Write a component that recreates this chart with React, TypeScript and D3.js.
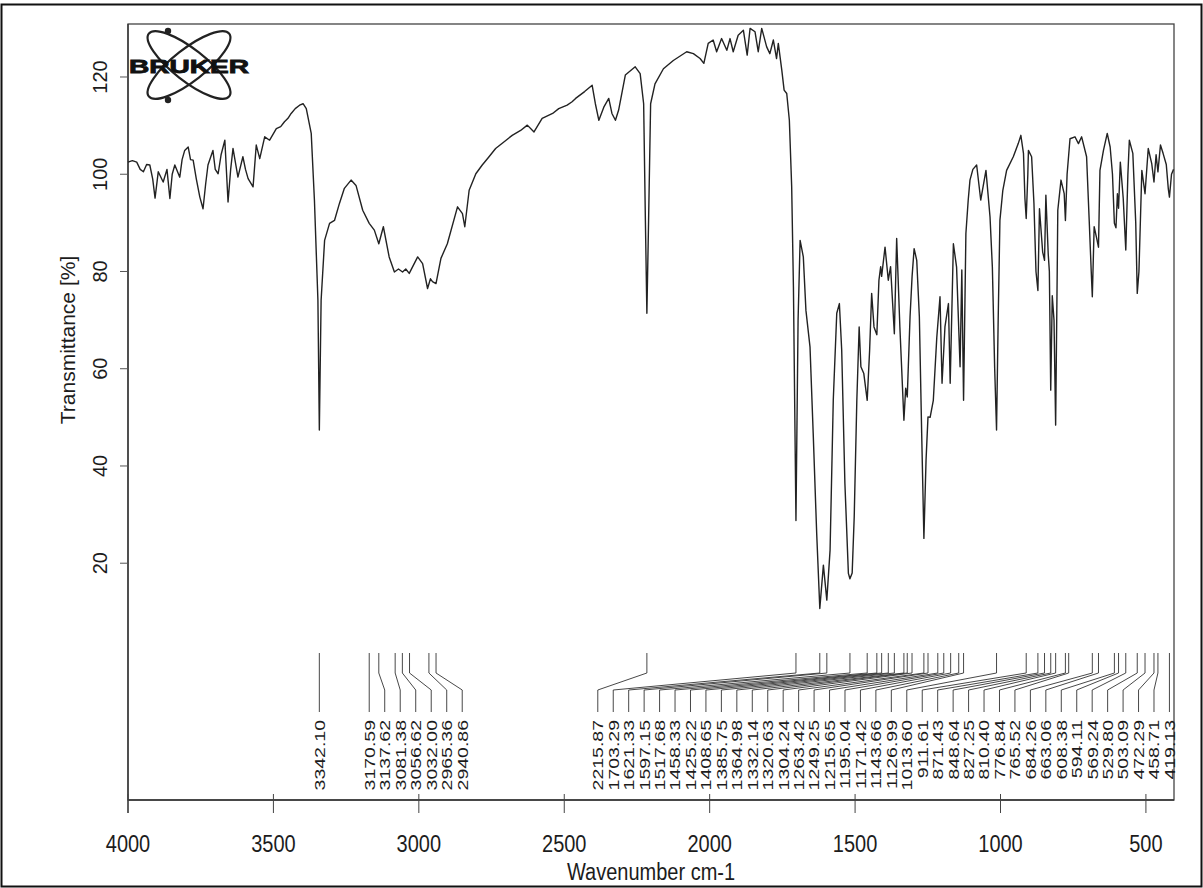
import * as d3 from 'd3';

const W = 1203;
const H = 888;

// axis ticks
const xTicks = [4000, 3500, 3000, 2500, 2000, 1500, 1000, 500];
const yTicks = [20, 40, 60, 80, 100, 120];

// spectrum (wavenumber cm-1 / transmittance %)
const wavenumbers = [
  4000, 3985, 3970, 3958, 3947, 3936, 3925, 3915, 3907, 3896, 3879, 3866, 3856, 3848, 3839, 3822,
  3814, 3805, 3793, 3785, 3776, 3765, 3753, 3742, 3733, 3725, 3708, 3700, 3690, 3680, 3667, 3656,
  3647, 3639, 3622, 3605, 3596, 3587, 3570, 3559, 3547, 3530, 3513, 3490, 3475, 3462, 3450, 3439,
  3425, 3410, 3398, 3387, 3370, 3359, 3347, 3342.1, 3336, 3324, 3307, 3290, 3273, 3256, 3233, 3216,
  3193, 3170.6, 3153, 3137.6, 3122, 3102, 3084, 3070, 3056, 3045, 3033, 3004, 2987, 2970, 2960, 2953,
  2941, 2924, 2902, 2867, 2850, 2842, 2827, 2804, 2782, 2760, 2736, 2700, 2679, 2650, 2627, 2604,
  2576, 2540, 2519, 2490, 2473, 2461, 2430, 2404, 2393, 2381, 2364, 2347, 2336, 2324, 2313, 2290,
  2256, 2239, 2227, 2221, 2215.9, 2210, 2203, 2188, 2159, 2125, 2079, 2056, 2033, 2020, 2005, 1988,
  1976, 1959, 1941, 1930, 1919, 1902, 1884, 1871, 1861, 1844, 1833, 1821, 1804, 1793, 1781, 1770,
  1764, 1752, 1744, 1735, 1726, 1718, 1712, 1703.3, 1696, 1689, 1678, 1669, 1655, 1644, 1632, 1621.3,
  1609, 1597.2, 1586, 1575, 1563, 1554, 1546, 1535, 1523, 1517.7, 1510, 1503, 1494, 1486, 1480, 1470,
  1458.3, 1450, 1443, 1435, 1425.2, 1418, 1412, 1408.7, 1397, 1385.8, 1378, 1365, 1357, 1346, 1332.1, 1326,
  1320.6, 1311, 1304, 1297, 1288, 1279, 1271, 1263.4, 1256, 1249.3, 1242, 1231, 1219, 1208, 1201, 1191,
  1179, 1173, 1162, 1151, 1139, 1133, 1127, 1119, 1111, 1105, 1095, 1082, 1068, 1050, 1036, 1028,
  1020, 1013.6, 1008, 1002, 992, 979, 956, 939, 930, 921, 916, 911.6, 906, 904, 893, 885,
  878, 871.4, 866, 855, 848.6, 844, 836, 832, 827.3, 822, 816, 810.4, 805, 803, 792, 781,
  776.8, 771, 765.5, 761, 744, 732, 721, 704, 695, 688, 684.3, 678, 670, 663.1, 658, 646,
  633, 623, 615, 608.4, 603, 598, 594.1, 588, 578, 569.2, 562, 557, 545, 535, 529.8, 524,
  514, 503.1, 492, 480, 472.3, 465, 458.7, 450, 441, 430, 423, 419.1, 412, 405,
];
const transmittance = [
  102.5, 102.8, 102.5, 101, 100.5, 102, 101.9, 99, 95.1, 100.5, 98.4, 101, 95, 100, 101.9, 99.4,
  103, 104.9, 105.6, 103, 102.9, 99, 95.3, 92.9, 98, 101.9, 104.9, 101, 100.1, 104, 107, 94.3,
  101, 105.3, 99.4, 103.6, 101, 99.1, 97.4, 106, 103.2, 107.7, 107, 109.4, 109.8, 110.8, 111.5, 112.5,
  113.5, 114.2, 114.5, 113.5, 108.4, 94.7, 74.1, 47.4, 74.1, 86.4, 89.9, 90.5, 94, 97.1, 98.8, 97.7,
  92.6, 89.9, 88.5, 85.7, 89.2, 83, 79.9, 80.5, 79.9, 80.5, 79.6, 83, 81.6, 76.5, 78.5, 77.9,
  77.5, 82.7, 85.7, 93.3, 91.9, 89.2, 96.7, 100.1, 101.9, 103.5, 105.3, 107, 108, 109, 110.1, 108.7,
  111.5, 112.5, 113.5, 114.2, 114.9, 115.6, 117, 118.3, 114.5, 111.1, 113.8, 115.6, 112.5, 111.1, 113.2, 120.4,
  122.1, 120.7, 114.5, 90.5, 71.4, 90.5, 114.5, 118.6, 121.7, 123.4, 125.2, 124.8, 123.8, 122.8, 126.9, 127.6,
  125.2, 127.9, 125.5, 127.9, 125.2, 128.6, 129.6, 124.5, 130, 129.3, 125.2, 130, 126.2, 124.8, 127.6, 123.8,
  126.9, 121.4, 117.3, 116.6, 111.1, 97.4, 76.8, 28.8, 70, 86.4, 83, 72, 64.5, 46.7, 26.1, 10.7,
  19.6, 12.4, 22.7, 53.5, 71.4, 73.4, 63.8, 36.4, 17.9, 16.8, 18, 29.5, 53.5, 68.6, 60.4, 59,
  53.5, 63.8, 75.5, 68.6, 67, 78.2, 81, 79, 85, 78.2, 81, 67.2, 86.8, 68.6, 49.4, 56,
  54.2, 70.7, 79, 84.7, 82.3, 70.7, 46.7, 25.1, 41.2, 50.1, 50, 53.5, 66.5, 74.8, 57, 68.6,
  73.4, 57, 85.7, 80.9, 60.4, 80.3, 53.5, 87.8, 94.7, 98.8, 101, 101.9, 94.7, 100.8, 91.2, 80.9,
  60, 47.4, 70, 90.5, 96.7, 100.8, 103.6, 106.3, 108, 104.3, 95, 90.9, 100, 104.9, 103.6, 94,
  80, 76.1, 92.9, 84, 82.3, 95.7, 83.7, 80, 55.6, 75, 70, 48.4, 80, 92.6, 98.8, 96,
  90.5, 100, 104, 107.3, 107.7, 106.3, 107.7, 103.6, 90.5, 80, 74.8, 89.2, 87, 85, 100.8, 104.9,
  108.4, 105.6, 100, 89.9, 89, 96, 93, 102.5, 95, 84.4, 100, 107, 104.3, 90, 75.5, 80,
  100.8, 96, 105.3, 102.2, 98.4, 104, 100.5, 106, 104.3, 102, 97, 95.3, 100, 101,
];

// peak picking labels
const peaksOH = [3342.10];
const peaksCH = [3170.59, 3137.62, 3081.38, 3056.62, 3032.00, 2965.36, 2940.86];
const peaksLow = [
  2215.87, 1703.29, 1621.33, 1597.15, 1517.68, 1458.33, 1425.22, 1408.65, 1385.75, 1364.98,
  1332.14, 1320.63, 1304.24, 1263.42, 1249.25, 1215.65, 1195.04, 1171.42, 1143.66, 1126.99,
  1013.60, 911.61, 871.43, 848.64, 827.25, 810.40, 776.84, 765.52, 684.26, 663.06,
  608.38, 594.11, 569.24, 529.80, 503.09, 472.29, 458.71, 419.13,
];

const FONT = '"Liberation Sans", Arial, Helvetica, sans-serif';
const INK = '#1c1c1c';

export default function App() {
  const left = 128, right = 1175, top = 24, bottom = 800;
  const x = d3.scaleLinear().domain([4000, 400]).range([left, right]);
  const y = d3.scaleLinear().domain([-28.7, 130.9]).range([bottom, top]);

  const line = d3.line<number>()
    .x((_, i) => x(wavenumbers[i]))
    .y(d => y(d));
  const spectrum = line(transmittance) || '';

  // label positions for the peak table
  const labels: { wn: number; tx: number; lx: number }[] = [];
  peaksOH.forEach(w => labels.push({ wn: w, tx: x(w), lx: x(w) }));
  const chStart = x(peaksCH[0]);
  peaksCH.forEach((w, i) => labels.push({ wn: w, tx: x(w), lx: chStart + i * 15.5 }));
  const lowEnd = x(peaksLow[peaksLow.length - 1]);
  peaksLow.forEach((w, i) =>
    labels.push({ wn: w, tx: x(w), lx: lowEnd - (peaksLow.length - 1 - i) * 15.45 }));

  const leader = (tx: number, lx: number) =>
    Math.abs(tx - lx) < 0.5
      ? `M${tx},653V712`
      : `M${tx},653V673L${lx},690V712`;

  return (
    <svg width={W} height={H} style={{ position: 'absolute', left: 0, top: 0, background: '#fff' }}
      fontFamily={FONT}>
      <rect x={1.5} y={4.5} width={W - 3} height={H - 6} fill="none" stroke="#111" strokeWidth={2} />

      {/* plot frame */}
      <rect x={left} y={top} width={right - left - 1} height={bottom - top}
        fill="none" stroke="#444" strokeWidth={1.3} />

      {/* y axis */}
      <line x1={left} x2={left} y1={top} y2={bottom + 13} stroke="#333" strokeWidth={1.3} />
      {yTicks.map(t => (
        <g key={t}>
          <line x1={left - 8} x2={left} y1={y(t)} y2={y(t)} stroke="#555" strokeWidth={1} />
          <text transform={`translate(107,${y(t)}) rotate(-90)`} textAnchor="middle"
            fontSize={20} fill={INK}>{t}</text>
        </g>
      ))}
      <text transform="translate(75,340) rotate(-90)" textAnchor="middle" fontSize={21} fill={INK}>
        Transmittance [%]
      </text>

      {/* x axis */}
      <line x1={left} x2={right - 1} y1={bottom} y2={bottom} stroke="#333" strokeWidth={1.6} />
      {xTicks.map(t => (
        <g key={t}>
          <line x1={x(t)} x2={x(t)} y1={bottom - 6} y2={bottom + 13} stroke="#444" strokeWidth={1} />
          <text transform={`translate(${x(t)},852) scale(1,1.2)`} textAnchor="middle"
            fontSize={20} fill={INK}>{t}</text>
        </g>
      ))}
      <text transform="translate(651,880) scale(1,1.15)" textAnchor="middle" fontSize={20} fill={INK}>
        Wavenumber cm-1
      </text>

      {/* spectrum */}
      <path d={spectrum} fill="none" stroke="#222" strokeWidth={1.4} strokeLinejoin="round" />

      {/* peak table */}
      {labels.map((p, i) => (
        <g key={i}>
          <path d={leader(p.tx, p.lx)} fill="none" stroke="#333" strokeWidth={0.9} />
          <text transform={`translate(${p.lx + 5.4},720) rotate(-90) scale(1.3,1)`}
            textAnchor="end" fontSize={15} fill={INK}>{p.wn.toFixed(2)}</text>
        </g>
      ))}

      {/* logo */}
      <g stroke="#222" strokeWidth={2.2} fill="none">
        <ellipse cx={189} cy={65} rx={51} ry={16} transform="rotate(38,189,65)" />
        <ellipse cx={189} cy={65} rx={51} ry={16} transform="rotate(-38,189,65)" />
      </g>
      <circle cx={168} cy={31} r={3.2} fill="#222" />
      <circle cx={168} cy={100} r={3.2} fill="#222" />
      <text transform="translate(129,73) scale(1.56,1)" fontSize={18} fontWeight={900} fill="#111"
        stroke="#111" strokeWidth={0.8}>BRUKER</text>
    </svg>
  );
}
